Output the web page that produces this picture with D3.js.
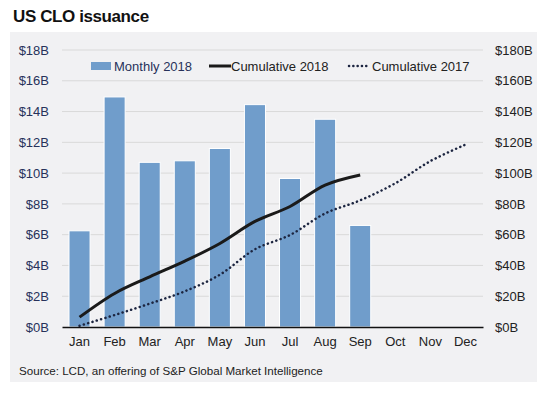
<!DOCTYPE html>
<html>
<head>
<meta charset="utf-8">
<script src="https://cdn.jsdelivr.net/npm/d3@7"></script>
<style>
  body { margin: 0; background: #fff; }
  svg { font-family: "Liberation Sans", Arial, sans-serif; display: block; }
</style>
</head>
<body>
<div id="chart"></div>
<script>
// values
const months = ["Jan", "Feb", "Mar", "Apr", "May", "Jun", "Jul", "Aug", "Sep", "Oct", "Nov", "Dec"];
const monthly2018 = [6.25, 14.95, 10.7, 10.8, 11.6, 14.45, 9.65, 13.5, 6.6];
const cumulative2018 = [6.4, 21.8, 32.6, 42.8, 54.3, 68.6, 78.3, 92.2, 98.8];
const cumulative2017 = [0.8, 7.8, 15.2, 23.2, 34, 50.5, 59.8, 73.8, 82.3, 93.4, 107.8, 118.5];
const leftTicks = [0, 2, 4, 6, 8, 10, 12, 14, 16, 18];
const rightTicks = [0, 20, 40, 60, 80, 100, 120, 140, 160, 180];

const width = 537, height = 393;
const plot = { left: 62, right: 483, top: 50, bottom: 327 };

const svg = d3.select("#chart").append("svg")
    .attr("width", width)
    .attr("height", height);

// grey panel
svg.append("rect")
    .attr("x", 10).attr("y", 32)
    .attr("width", width - 10).attr("height", 350)
    .attr("fill", "#f1f1f3");

svg.append("text")
    .attr("x", 13).attr("y", 22)
    .attr("font-size", 17).attr("font-weight", "bold")
    .attr("letter-spacing", -0.4)
    .attr("fill", "#111")
    .text("US CLO issuance");

const x = d3.scaleBand().domain(months).range([plot.left, plot.right]).paddingInner(0.4).paddingOuter(0.2);
const yL = d3.scaleLinear().domain([0, 18]).range([plot.bottom, plot.top]);
const yR = d3.scaleLinear().domain([0, 180]).range([plot.bottom, plot.top]);

// gridlines
svg.append("g").selectAll("line")
    .data(leftTicks.slice(1))
    .join("line")
    .attr("x1", plot.left).attr("x2", plot.right)
    .attr("y1", d => yL(d)).attr("y2", d => yL(d))
    .attr("stroke", "#d9d9d9").attr("stroke-width", 1);

// left axis
const leftAxis = svg.append("g")
    .attr("transform", `translate(${plot.left},0)`)
    .call(d3.axisLeft(yL).tickValues(leftTicks).tickSize(0).tickPadding(13).tickFormat(d => "$" + d + "B"));
leftAxis.select(".domain").remove();
leftAxis.selectAll("text").attr("font-size", 13).attr("fill", "#27315a").attr("font-family", null);

// right axis
const rightAxis = svg.append("g")
    .attr("transform", `translate(${plot.right},0)`)
    .call(d3.axisRight(yR).tickValues(rightTicks).tickSize(0).tickPadding(12).tickFormat(d => "$" + d + "B"));
rightAxis.select(".domain").remove();
rightAxis.selectAll("text").attr("font-size", 13).attr("fill", "#222").attr("font-family", null);

// bars
svg.append("g").selectAll("rect")
    .data(monthly2018)
    .join("rect")
    .attr("x", (d, i) => x(months[i]))
    .attr("width", x.bandwidth())
    .attr("y", d => yL(d))
    .attr("height", d => yL(0) - yL(d))
    .attr("fill", "#709dcb")
    .attr("stroke", "#fff").attr("stroke-width", 1);

// baseline + month labels
const xAxis = svg.append("g")
    .attr("transform", `translate(0,${plot.bottom})`)
    .call(d3.axisBottom(x).tickSize(0).tickPadding(10));
xAxis.select(".domain").attr("stroke", "#111").attr("stroke-width", 1.5);
xAxis.selectAll("text").attr("font-size", 13).attr("fill", "#222").attr("font-family", null);

const cx = i => x(months[i]) + x.bandwidth() / 2;

const line = d3.line()
    .x((d, i) => cx(i))
    .y(d => yR(d))
    .curve(d3.curveCatmullRom.alpha(0.5));

svg.append("path")
    .datum(cumulative2017)
    .attr("d", line)
    .attr("fill", "none")
    .attr("stroke", "#1c2540")
    .attr("stroke-width", 2.5)
    .attr("stroke-linecap", "round")
    .attr("stroke-dasharray", "0.1,4.4");

svg.append("path")
    .datum(cumulative2018)
    .attr("d", line)
    .attr("fill", "none")
    .attr("stroke", "#1a1a1a")
    .attr("stroke-width", 3);

// legend
const legY = 66;
const legend = svg.append("g").attr("font-size", 13);
legend.append("rect")
    .attr("x", 91).attr("y", legY - 4).attr("width", 20).attr("height", 8)
    .attr("fill", "#709dcb");
legend.append("text")
    .attr("x", 114).attr("y", legY + 5)
    .attr("fill", "#27315a")
    .text("Monthly 2018");
legend.append("line")
    .attr("x1", 209).attr("x2", 231).attr("y1", legY).attr("y2", legY)
    .attr("stroke", "#1a1a1a").attr("stroke-width", 3);
legend.append("text")
    .attr("x", 231).attr("y", legY + 5)
    .attr("fill", "#222")
    .text("Cumulative 2018");
legend.append("line")
    .attr("x1", 349).attr("x2", 370).attr("y1", legY).attr("y2", legY)
    .attr("stroke", "#1c2540").attr("stroke-width", 2.5)
    .attr("stroke-linecap", "round").attr("stroke-dasharray", "0.1,4.2");
legend.append("text")
    .attr("x", 372).attr("y", legY + 5)
    .attr("fill", "#222")
    .text("Cumulative 2017");

svg.append("text")
    .attr("x", 19).attr("y", 375)
    .attr("font-size", 11.6)
    .attr("fill", "#222")
    .text("Source: LCD, an offering of S&P Global Market Intelligence");
</script>
</body>
</html>
